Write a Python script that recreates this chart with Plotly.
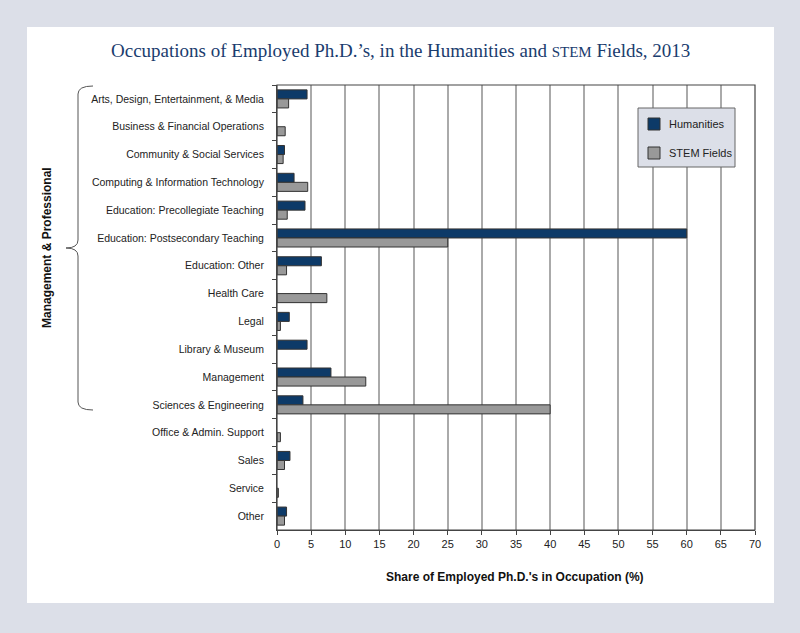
import plotly.graph_objects as go

categories = [
    "Arts, Design, Entertainment, & Media",
    "Business & Financial Operations",
    "Community & Social Services",
    "Computing & Information Technology",
    "Education: Precollegiate Teaching",
    "Education: Postsecondary Teaching",
    "Education: Other",
    "Health Care",
    "Legal",
    "Library & Museum",
    "Management",
    "Sciences & Engineering",
    "Office & Admin. Support",
    "Sales",
    "Service",
    "Other",
]
humanities = [4.4, 0, 1.1, 2.5, 4.1, 60.0, 6.5, 0, 1.8, 4.4, 7.9, 3.8, 0, 1.9, 0, 1.4]
stem = [1.7, 1.2, 0.9, 4.5, 1.5, 25.0, 1.4, 7.3, 0.5, 0, 13.0, 40.0, 0.5, 1.1, 0.2, 1.1]
x_ticks = list(range(0, 75, 5))

W, H = 800, 633
L, R, T, B = 277, 45, 85, 103
pw, ph = W - L - R, H - T - B

def px(x):
    return (x - L) / pw

def py(y):
    return (H - B - y) / ph

def outline_widths(vals):
    return [1 if v > 0 else 0 for v in vals]

fig = go.Figure()
fig.add_trace(go.Bar(
    y=categories, x=humanities, orientation="h", name="Humanities",
    marker=dict(color="#0d3a68", line=dict(color="#333333", width=outline_widths(humanities))),
))
fig.add_trace(go.Bar(
    y=categories, x=stem, orientation="h", name="STEM Fields",
    marker=dict(color="#999999", line=dict(color="#333333", width=outline_widths(stem))),
))

shapes = [
    # white panel
    dict(type="rect", xref="paper", yref="paper", layer="below",
         x0=px(27), x1=px(774), y0=py(603), y1=py(27),
         fillcolor="white", line=dict(width=0)),
    # plot frame
    dict(type="rect", xref="paper", yref="paper", layer="above",
         x0=0, x1=1, y0=0, y1=1, line=dict(color="#444444", width=1.2)),
    # legend box
    dict(type="rect", xref="paper", yref="paper", layer="above",
         x0=px(638), x1=px(735), y0=py(167), y1=py(108),
         fillcolor="#dcdfe8", line=dict(color="#666666", width=1)),
    dict(type="rect", xref="paper", yref="paper", layer="above",
         x0=px(648), x1=px(660), y0=py(130), y1=py(118),
         fillcolor="#0d3a68", line=dict(color="#333333", width=1)),
    dict(type="rect", xref="paper", yref="paper", layer="above",
         x0=px(648), x1=px(660), y0=py(159), y1=py(147),
         fillcolor="#999999", line=dict(color="#333333", width=1)),
]

# curly brace
bx0, bx1, btip = 90, 78, 66
yt, ym, yb = 86, 248, 410
brace = (f"M {px(bx0+3)} {py(yt)} Q {px(bx1)} {py(yt)} {px(bx1)} {py(yt+8)} "
         f"L {px(bx1)} {py(ym-8)} Q {px(bx1)} {py(ym)} {px(btip)} {py(ym)} "
         f"Q {px(bx1)} {py(ym)} {px(bx1)} {py(ym+8)} "
         f"L {px(bx1)} {py(yb-8)} Q {px(bx1)} {py(yb)} {px(bx0+3)} {py(yb)}")
shapes.append(dict(type="path", xref="paper", yref="paper", path=brace,
                   line=dict(color="#555555", width=1)))

annotations = [
    dict(text="Occupations of Employed Ph.D.’s, in the Humanities and "
              "<span style='font-size:15px'>STEM</span> Fields, 2013",
         xref="paper", yref="paper", x=px(400), y=py(50), showarrow=False,
         font=dict(family="Liberation Serif, serif", size=19, color="#1a3c6e"),
         xanchor="center", yanchor="middle"),
    dict(text="<b>Management & Professional</b>", xref="paper", yref="paper",
         x=px(47), y=py(248), showarrow=False, textangle=-90,
         font=dict(family="Liberation Sans, Arial", size=12, color="#111111"),
         xanchor="center", yanchor="middle"),
    dict(text="<b>Share of Employed Ph.D.'s in Occupation (%)</b>", xref="paper", yref="paper",
         x=px(515), y=py(577), showarrow=False,
         font=dict(family="Liberation Sans, Arial", size=12, color="#111111"),
         xanchor="center", yanchor="middle"),
    dict(text="Humanities", xref="paper", yref="paper", x=px(667), y=py(124),
         showarrow=False, xanchor="left", yanchor="middle",
         font=dict(family="Liberation Sans, Arial", size=11, color="#222222")),
    dict(text="STEM Fields", xref="paper", yref="paper", x=px(667), y=py(153),
         showarrow=False, xanchor="left", yanchor="middle",
         font=dict(family="Liberation Sans, Arial", size=11, color="#222222")),
]

fig.update_layout(
    width=W, height=H,
    margin=dict(l=L, r=R, t=T, b=B, autoexpand=False),
    paper_bgcolor="#dcdfe8", plot_bgcolor="white",
    barmode="group", bargap=0.35, bargroupgap=0,
    showlegend=False,
    font=dict(family="Liberation Sans, Arial", size=11, color="#222222"),
    shapes=shapes, annotations=annotations,
    xaxis=dict(range=[0, 70], tickvals=x_ticks, ticktext=[str(v) for v in x_ticks],
               showgrid=True, gridcolor="#aaaaaa", gridwidth=1.5,
               ticks="outside", ticklen=4, tickcolor="#444444",
               showline=True, linecolor="#444444", zeroline=False,
               tickfont=dict(size=11, color="#222222")),
    yaxis=dict(categoryorder="array", categoryarray=categories, autorange="reversed",
               tickson="boundaries", ticks="outside", ticklen=4, tickcolor="#444444",
               showline=True, linecolor="#444444", showgrid=False,
               ticklabelstandoff=10,
               tickfont=dict(size=10.5, color="#222222")),
)

fig.write_html("out.html", config={"displayModeBar": False},
               post_script="document.body.style.margin='0';document.body.style.padding='0';")
